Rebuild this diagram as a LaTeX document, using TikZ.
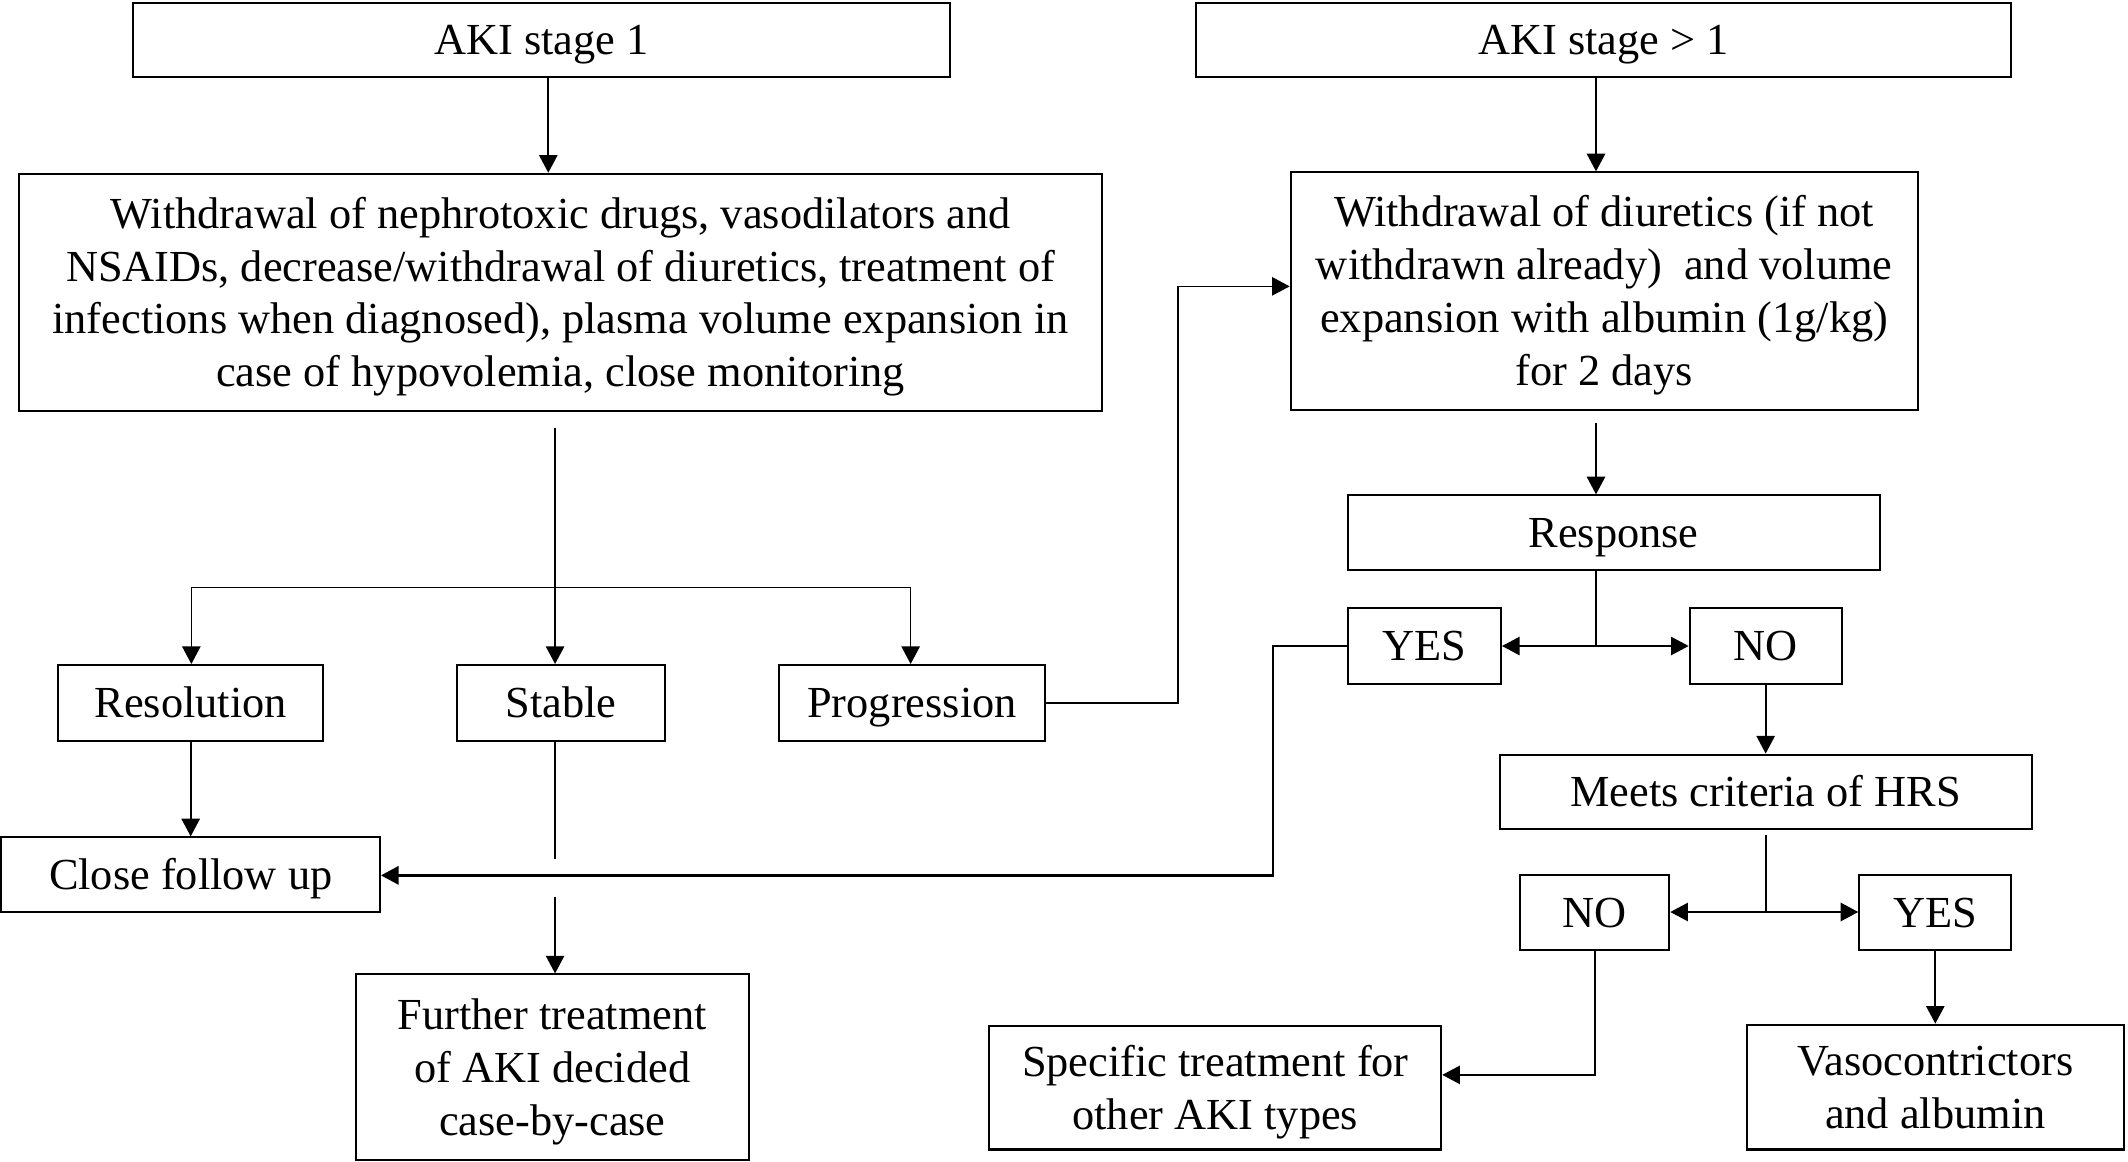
\documentclass[tikz,border=0pt]{standalone}
\usepackage{fontspec}
\setmainfont{Liberation Serif}
\usetikzlibrary{arrows.meta}
\newcommand\fl{\rule{0pt}{12.6pt}}
\tikzset{
  bx/.style={draw, line width=0.85pt, inner sep=0pt, align=center,
    font=\fontsize{18.6}{22.2}\selectfont},
  one/.style={text height=12.3pt, text depth=0pt},
  sz/.style 2 args={minimum width=#1cm, minimum height=#2cm},
  ln/.style={line width=0.7pt},
  arr/.style={ln, -{Triangle[length=0.26cm, width=0.27cm]}},
  thk/.style={line width=1pt},
}
\begin{document}
\begin{tikzpicture}[x=0.02cm, y=-0.02cm]
\useasboundingbox (0,0) rectangle (1568,856);
% nodes
\node[bx, one, sz={12.04}{1.1}] (aki1) at (399,29.5) {AKI stage 1};
\node[bx, one, sz={12.02}{1.1}] (aki2) at (1181.5,29.5) {AKI stage {\textgreater} 1};
\node[bx, sz={15.96}{3.5}] (main) at (413,215.5) {\fl\smash{Withdrawal of nephrotoxic drugs, vasodilators and}\\\smash{NSAIDs, decrease/withdrawal of diuretics, treatment of}\\\smash{infections when diagnosed), plasma volume expansion in}\\\smash{case of hypovolemia, close monitoring}};
\node[bx, sz={9.24}{3.5}] (diur) at (1182,214.5) {\fl\smash{Withdrawal of diuretics (if not}\\\smash{withdrawn already)\ \ and volume}\\\smash{expansion with albumin (1g/kg)}\\\smash{for 2 days}};
\node[bx, one, sz={7.84}{1.1}] (resp) at (1189,392.5) {Response};
\node[bx, one, sz={2.26}{1.12}] (yes1) at (1049.5,476) {YES};
\node[bx, one, sz={2.24}{1.12}] (no1) at (1301,476) {NO};
\node[bx, one, sz={7.84}{1.1}] (hrs) at (1301,583.5) {Meets criteria of HRS};
\node[bx, one, sz={2.2}{1.1}] (no2) at (1175,672.5) {NO};
\node[bx, one, sz={2.24}{1.1}] (yes2) at (1426,672.5) {YES};
\node[bx, sz={6.66}{1.82}] (spec) at (895.5,801.5) {\fl\smash{Specific treatment for}\\\smash{other AKI types}};
\node[bx, sz={5.56}{1.84}] (vaso) at (1426,801) {\fl\smash{Vasocontrictors}\\\smash{and albumin}};
\node[bx, one, sz={3.9}{1.12}] (reso) at (140.5,518) {Resolution};
\node[bx, one, sz={3.06}{1.12}] (stab) at (413.5,518) {Stable};
\node[bx, one, sz={3.92}{1.12}] (prog) at (672,518) {Progression};
\node[bx, one, sz={5.58}{1.1}] (cfu) at (140.5,644.5) {Close follow up};
\node[bx, sz={5.8}{2.74}] (fur) at (407,786.5) {\fl\smash{Further treatment}\\\smash{of AKI decided}\\\smash{case-by-case}};
% coordinates
\coordinate (m1) at (409,315);
\coordinate (jm) at (409,433);
\coordinate (jl) at (141,433);
\coordinate (jr) at (671,433);
\coordinate (p1) at (868,211);
\coordinate (s1) at (409,633);
\coordinate (s2) at (409,661);
\coordinate (q1) at (938,645);
\coordinate (d1) at (1176,312);
\coordinate (r1) at (1176,476);
\coordinate (h0) at (1301,615);
\coordinate (h1) at (1301,672);
\coordinate (n1) at (1175,792);
% connectors
\draw[arr] (aki1.south -| 404,0) -- (main.north -| 404,0);
\draw[arr] (aki2.south -| 1176,0) -- (diur.north -| 1176,0);
\draw[ln] (m1) -- (jm);
\draw[ln] (jl) -- (jr);
\draw[arr] (jl) -- (reso.north -| jl);
\draw[arr] (jm) -- (stab.north -| jm);
\draw[arr] (jr) -- (prog.north -| jr);
\draw[arr] (prog.east) -| (p1) -- (diur.west |- p1);
\draw[arr] (reso.south) -- (cfu.north);
\draw[ln] (stab.south -| s1) -- (s1);
\draw[arr] (s2) -- (fur.north -| s2);
\draw[arr, thk] (yes1.west) -| (q1) -- (cfu.east |- q1);
\draw[arr] (d1) -- (resp.north -| d1);
\draw[ln] (resp.south -| r1) -- (r1);
\draw[arr] (r1) -- (yes1.east |- r1);
\draw[arr] (r1) -- (no1.west |- r1);
\draw[arr] (no1.south) -- (hrs.north -| no1.south);
\draw[ln] (h0) -- (h1);
\draw[arr] (h1) -- (no2.east |- h1);
\draw[arr] (h1) -- (yes2.west |- h1);
\draw[arr] (no2.south) -- (n1) -- (spec.east |- n1);
\draw[arr] (yes2.south) -- (vaso.north -| yes2.south);
\end{tikzpicture}
\end{document}
